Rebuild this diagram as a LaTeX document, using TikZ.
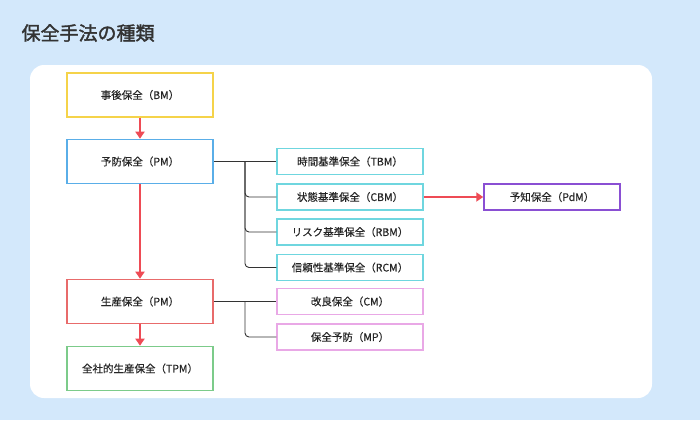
\documentclass[tikz,border=0pt]{standalone}
\usepackage{fontspec}
\setmainfont{Noto Sans CJK JP}[FakeBold=0.4]
\newfontfamily\titlefont{Noto Sans CJK JP}[FakeBold=1.8]
\usetikzlibrary{arrows.meta}
\definecolor{bg}{HTML}{D3E8FB}
\definecolor{cy}{HTML}{F5D34A}
\definecolor{cb}{HTML}{5AAEE8}
\definecolor{cr}{HTML}{E86B6B}
\definecolor{cg}{HTML}{7CCB8A}
\definecolor{ct}{HTML}{6FD6DF}
\definecolor{cp}{HTML}{E9A8E6}
\definecolor{cv}{HTML}{8A4FD3}
\definecolor{arr}{HTML}{EE4B55}
\definecolor{ln}{HTML}{333333}
\begin{document}
\begin{tikzpicture}[x=1pt,y=-1pt,
  box/.style={draw,line width=1.6pt,fill=white,minimum width=146pt,minimum height=44pt,font=\fontsize{10.5}{12}\selectfont,text=black!85},
  sbox/.style={draw,line width=1.5pt,fill=white,minimum width=146pt,minimum height=26pt,font=\fontsize{10.5}{12}\selectfont,text=black!85},
  rarr/.style={draw=arr,line width=2pt,-{Triangle[length=7pt,width=9pt]}},
  tree/.style={draw=ln,line width=0.9pt,rounded corners=4pt}]
\fill[bg] (0,0) rectangle (700,420);
\fill[white,rounded corners=14pt] (30,65) rectangle (652,398);
\node[anchor=west,font=\titlefont\fontsize{19}{22}\selectfont,text=black!80] (title) at (18,33) {保全手法の種類};
\node[box,draw=cy] (bm) at (140,95) {事後保全（BM）};
\node[box,draw=cb] (pm) at (140,161.5) {予防保全（PM）};
\node[box,draw=cr] (prm) at (140,301.5) {生産保全（PM）};
\node[box,draw=cg] (tpm) at (140,368.5) {全社的生産保全（TPM）};
\node[sbox,draw=ct] (tbm) at (350,161.5) {時間基準保全（TBM）};
\node[sbox,draw=ct] (cbm) at (350,197) {状態基準保全（CBM）};
\node[sbox,draw=ct] (rbm) at (350,232) {リスク基準保全（RBM）};
\node[sbox,draw=ct] (rcm) at (350,267.5) {信頼性基準保全（RCM）};
\node[sbox,draw=cp] (cm) at (350,301.5) {改良保全（CM）};
\node[sbox,draw=cp] (mp) at (350,337) {保全予防（MP）};
\node[sbox,draw=cv,minimum width=136pt] (pdm) at (552,197) {予知保全（PdM）};
\draw[rarr] (bm) -- (pm);
\draw[rarr] (pm) -- (prm);
\draw[rarr] (prm) -- (tpm);
\draw[rarr] (cbm) -- (pdm);
\coordinate (j1) at (245,161.5);
\coordinate (j2) at (245,301.5);
\draw[tree] (pm.east) -- (tbm.west);
\draw[tree] (j1) -- (j1|-cbm.west) -- (cbm.west);
\draw[tree] (j1) -- (j1|-rbm.west) -- (rbm.west);
\draw[tree] (j1) -- (j1|-rcm.west) -- (rcm.west);
\draw[tree] (prm.east) -- (cm.west);
\draw[tree] (j2) -- (j2|-mp.west) -- (mp.west);
\end{tikzpicture}
\end{document}
